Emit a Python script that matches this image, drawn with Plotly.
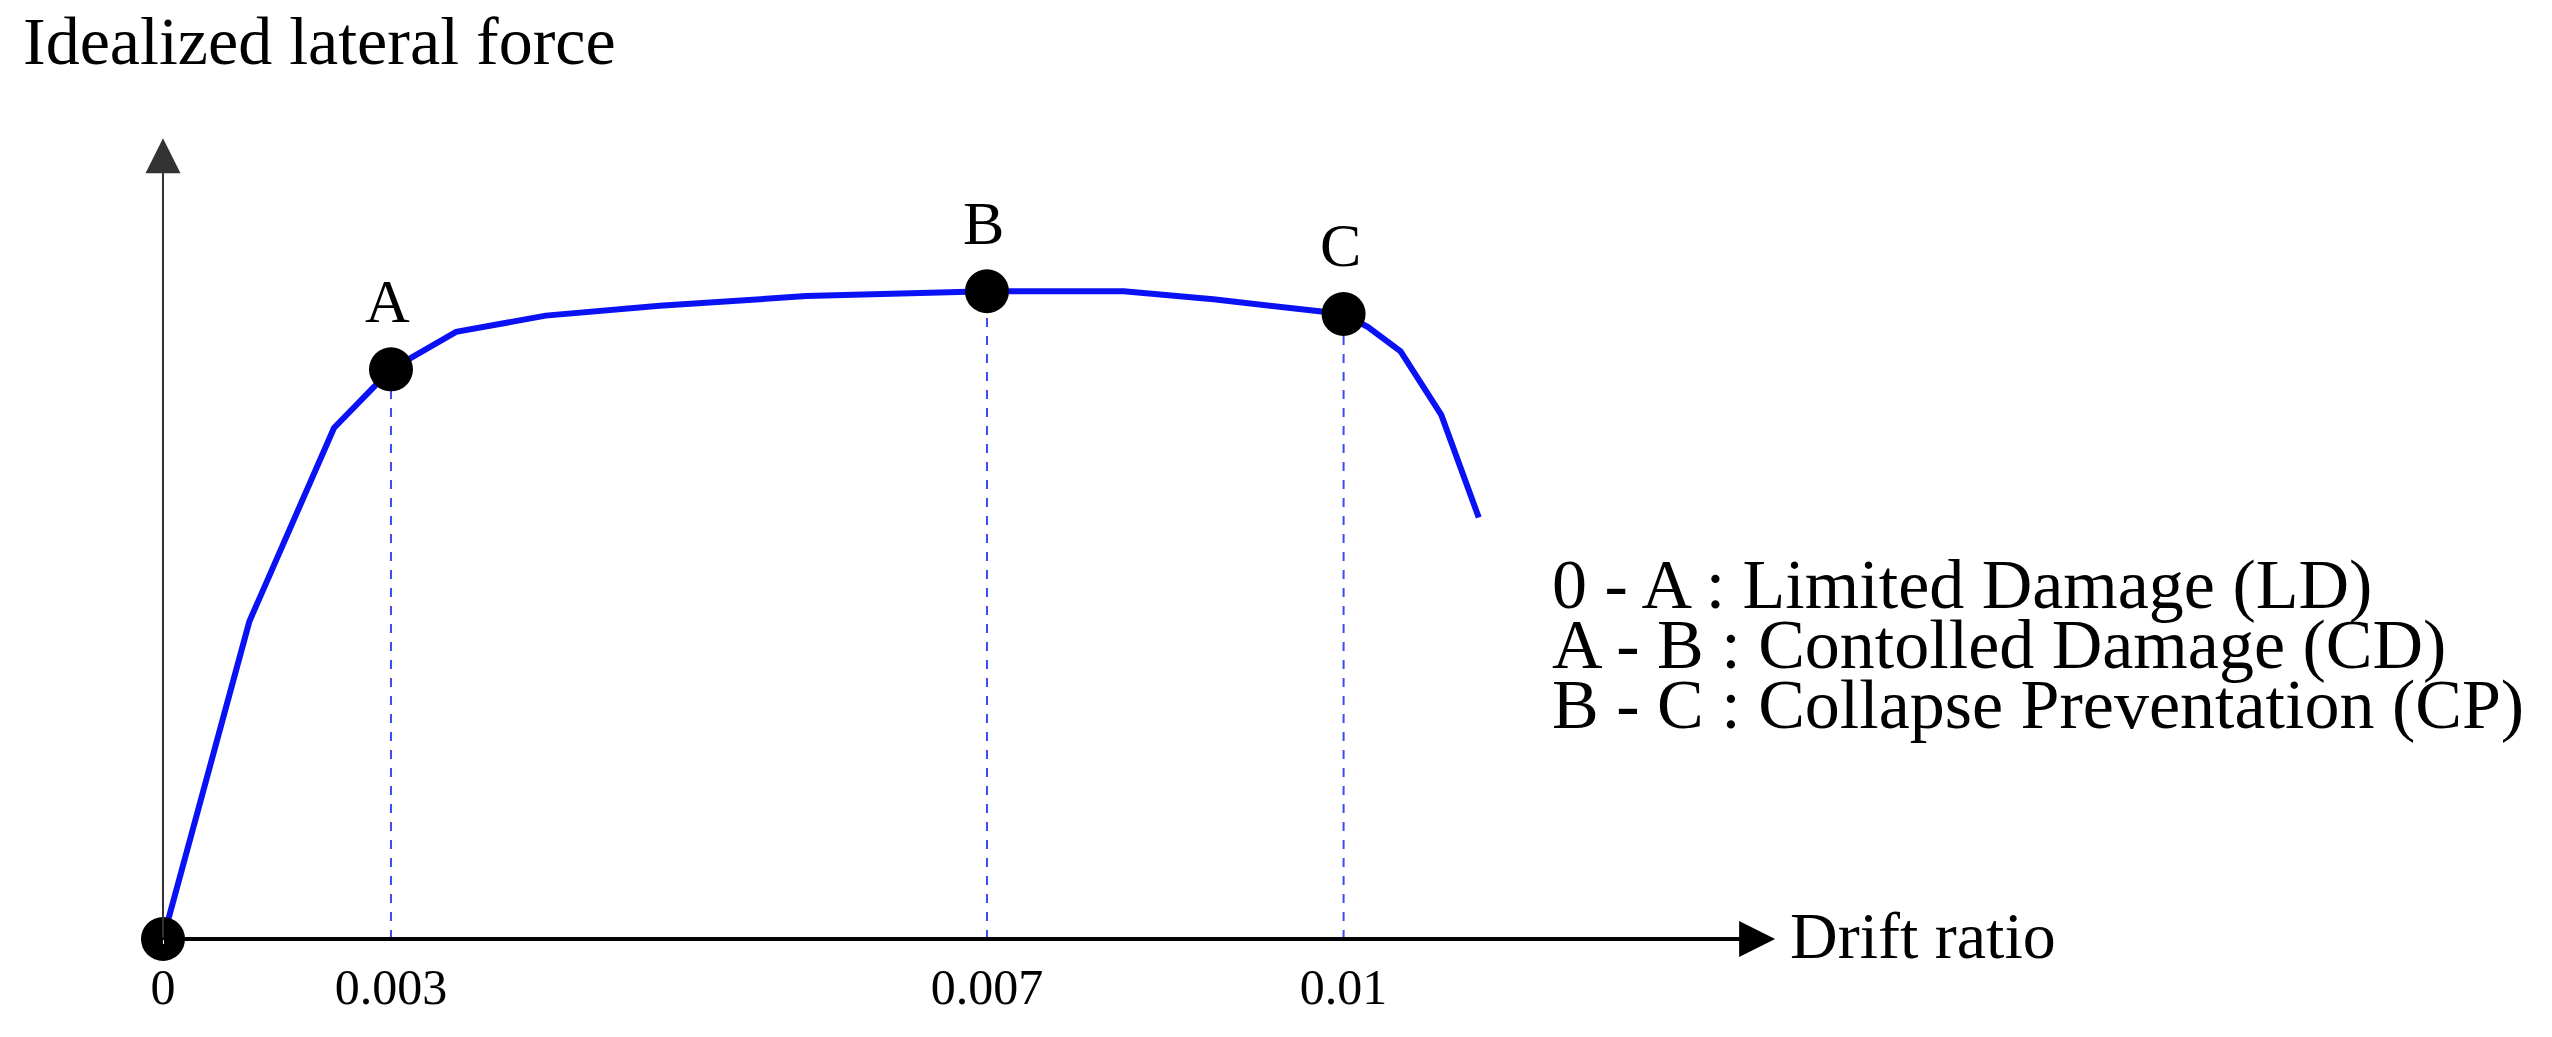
import plotly.graph_objects as go

# curve in chart units (x: drawing position along drift axis, y: force height)
curve_x = [0, 53, 105, 140, 180, 235, 305, 395, 506, 590, 645, 725, 740, 760, 785, 808]
curve_y = [0, 195, 314, 350, 373, 383, 389, 395, 398, 398, 393, 384, 376, 361, 322, 259]

point_names = ["A", "B", "C"]
point_x = [140, 506, 725]
point_y = [350, 398, 384]

tick_vals = [0, 140, 506, 725]
tick_text = ["0", "0.003", "0.007", "0.01"]

legend_lines = [
    "0 - A : Limited Damage (LD)",
    "A - B : Contolled Damage (CD)",
    "B - C : Collapse Preventation (CP)",
]

FONT = "Liberation Serif"
BLUE = "#0a12f5"

fig = go.Figure()

# dashed drop lines
for px, py in zip(point_x, point_y):
    fig.add_trace(go.Scatter(x=[px, px], y=[0, py], mode="lines",
                             line=dict(color="#3a4df5", width=2, dash="dash"),
                             hoverinfo="skip"))

fig.add_trace(go.Scatter(x=curve_x, y=curve_y, mode="lines",
                         line=dict(color=BLUE, width=6), hoverinfo="skip"))

fig.add_trace(go.Scatter(x=[0] + point_x, y=[0] + point_y, mode="markers",
                         marker=dict(color="black", size=44), cliponaxis=False,
                         hoverinfo="skip"))

# axis arrows
fig.add_annotation(x=990, y=0, ax=0, ay=0, xref="x", yref="y", axref="x", ayref="y",
                   showarrow=True, arrowhead=2, arrowsize=1.8, arrowwidth=4,
                   arrowcolor="black", text="")
fig.add_annotation(x=0, y=492, ax=0, ay=0, xref="x", yref="y", axref="x", ayref="y",
                   showarrow=True, arrowhead=2, arrowsize=3.5, arrowwidth=2,
                   arrowcolor="#333", text="")

for name, px, py in zip(point_names, point_x, point_y):
    fig.add_annotation(x=px - 2, y=py + 20, text=name, showarrow=False,
                       yanchor="bottom", font=dict(family=FONT, size=62, color="black"))

fig.add_annotation(x=-87 / 1472, y=552 / 572, xref="paper", yref="paper",
                   text="Idealized lateral force", showarrow=False,
                   xanchor="left", yanchor="middle",
                   font=dict(family=FONT, size=68, color="black"))
fig.add_annotation(x=998, y=2, text="Drift ratio", showarrow=False,
                   xanchor="left", yanchor="middle",
                   font=dict(family=FONT, size=66, color="black"))

for i, line in enumerate(legend_lines):
    fig.add_annotation(x=852, y=218 - i * 37, text=line, showarrow=False,
                       xanchor="left", yanchor="middle",
                       font=dict(family=FONT, size=70, color="black"))

fig.update_layout(
    width=2552, height=1037,
    margin=dict(l=155, r=0, t=0, b=106),
    plot_bgcolor="white", paper_bgcolor="white",
    showlegend=False,
)
fig.update_xaxes(range=[0, 1472], tickvals=tick_vals, ticktext=tick_text,
                 showgrid=False, zeroline=False, showline=False,
                 ticks="outside", ticklen=4, tickcolor="white",
                 tickfont=dict(family=FONT, size=50, color="black"))
fig.update_yaxes(range=[0, 572], showgrid=False, zeroline=False, showline=False,
                 showticklabels=False)

fig.write_html("out.html")
